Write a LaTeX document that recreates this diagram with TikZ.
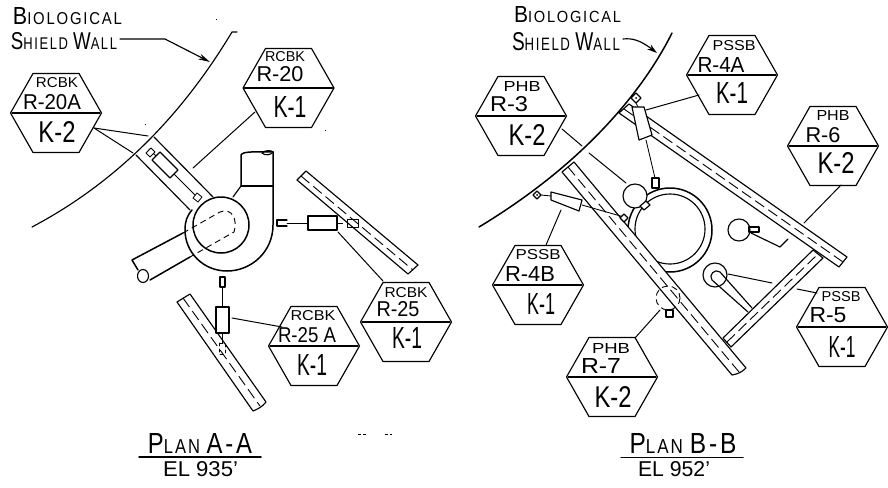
\documentclass[tikz,border=0pt]{standalone}
\usepackage{fontspec}
\setmainfont{Liberation Sans}
\newfontfamily\spacedfont[LetterSpace=12]{Liberation Sans}
\usetikzlibrary{arrows.meta}
\tikzset{
  ink/.style={line width=1.15pt,black,line join=round,line cap=round},
  thinink/.style={line width=0.85pt,black,line join=round,line cap=round},
  heavy/.style={line width=1.5pt,black,line join=round,line cap=round},
  centerline/.style={line width=0.9pt,black,dash pattern=on 11pt off 5pt},
  dashink/.style={line width=0.9pt,black,dash pattern=on 6pt off 4pt},
  leader/.style={line width=1pt,black,line cap=round},
  hexbox/.style={minimum width=91pt,minimum height=79pt,inner sep=0pt},
  lab/.style={inner sep=0pt,outer sep=0pt,black},
  speck/.style={line width=0.7pt,black}
}
\newcommand{\fitlab}[6]{\node[lab] (#1) at (#2,#3) {\resizebox{#4pt}{#5pt}{#6}};}
\newcommand{\hexa}[3]{%
  \node[hexbox] (#1) at (#2,#3) {};
  \begin{scope}[shift={(#2,#3)}]
    \draw[ink] (-45.5,0)--(-23,-39.5)--(23,-39.5)--(45.5,0)--(23,39.5)--(-23,39.5)--cycle;
    \draw[ink] (-44,0)--(44,0);
  \end{scope}}
\newcommand{\ttl}[1]{{\Large #1}}
\begin{document}
\begin{tikzpicture}[x=1pt,y=-1pt]
\useasboundingbox (0,0) rectangle (888,487);

%% ---------- hexagons, plan A-A
\hexa{hA}{56}{113}
\fitlab{hAa}{57}{83}{42}{10}{RCBK}
\fitlab{hAb}{52}{102}{58}{15}{R-20A}
\fitlab{hAc}{57}{132}{37}{21}{K-2}
\hexa{hB}{288.5}{88}
\fitlab{hBa}{285}{57}{40}{10}{RCBK}
\fitlab{hBb}{280}{74}{47}{15}{R-20}
\fitlab{hBc}{290}{107}{33}{21}{K-1}
\hexa{hC}{314}{346}
\fitlab{hCa}{313}{316}{45}{10}{RCBK}
\fitlab{hCb}{307}{335}{58}{15}{R-25 A}
\fitlab{hCc}{312}{365}{30}{21}{K-1}
\hexa{hD}{406}{322}
\fitlab{hDa}{406}{293}{43}{10}{RCBK}
\fitlab{hDb}{398}{309}{43}{15}{R-25}
\fitlab{hDc}{407}{338}{30}{21}{K-1}

%% ---------- hexagons, plan B-B
\hexa{hE}{521}{116}
\fitlab{hEa}{522}{86}{37}{10}{PHB}
\fitlab{hEb}{509}{104}{38}{15}{R-3}
\fitlab{hEc}{527}{135}{37}{21}{K-2}
\hexa{hF}{732}{75}
\fitlab{hFa}{734}{46}{43}{10}{PSSB}
\fitlab{hFb}{721}{65}{47}{15}{R-4A}
\fitlab{hFc}{732}{93}{32}{21}{K-1}
\hexa{hG}{833}{146}
\fitlab{hGa}{833}{115}{33}{10}{PHB}
\fitlab{hGb}{823}{135}{35}{15}{R-6}
\fitlab{hGc}{836}{163}{37}{21}{K-2}
\hexa{hH}{538}{285}
\fitlab{hHa}{538}{255}{45}{10}{PSSB}
\fitlab{hHb}{530}{274}{50}{15}{R-4B}
\fitlab{hHc}{541}{304}{28}{21}{K-1}
\hexa{hI}{612}{377}
\fitlab{hIa}{611}{348}{38}{10}{PHB}
\fitlab{hIb}{601}{366}{40}{15}{R-7}
\fitlab{hIc}{613}{397}{37}{21}{K-2}
\hexa{hJ}{842}{327}
\fitlab{hJa}{841}{297}{39}{10}{PSSB}
\fitlab{hJb}{828}{315}{37}{15}{R-5}
\fitlab{hJc}{842}{347}{27}{21}{K-1}

%% ---------- headings
\fitlab{t1}{67.5}{16.5}{109}{17}{\spacedfont\ttl{B}IOLOGICAL}
\fitlab{t2}{64}{41.5}{106}{17}{\spacedfont\ttl{S}HIELD \ttl{W}ALL}
\fitlab{t3}{567.5}{15}{107}{16}{\spacedfont\ttl{B}IOLOGICAL}
\fitlab{t4}{566}{41.5}{108}{18}{\spacedfont\ttl{S}HIELD \ttl{W}ALL}
\fitlab{t5}{200}{443}{104}{20}{\spacedfont\ttl{P}LAN \ttl{A-A}}
\fitlab{t6}{200.5}{469}{75}{15}{EL 935'}
\fitlab{t7}{683}{443}{107}{20}{\spacedfont\ttl{P}LAN \ttl{B-B}}
\fitlab{t8}{674}{469}{72}{15}{EL 952'}
\draw[heavy] (139,457)--(261,457);
\draw[heavy] (621,457.5)--(743,457.5);

%% ---------- plan A-A: wall and its arrow
\coordinate (wA1) at (232,32);
\coordinate (wA2) at (32,227);
\draw[ink] (237,32)--(wA1) .. controls (200,85) and (140,170) .. (wA2);
\coordinate (sA0) at (120,39);
\coordinate (sA1) at (165,39);
\coordinate (sA2) at (210,62);
\draw[ink,-{Stealth[length=12pt,width=6pt]}] (sA0)--(sA1)--(sA2);

%% ---------- plan A-A: duct to the pump
\draw[ink] (154,137)--(213,197);
\draw[ink] (136,155)--(190,210);
\coordinate (pA1) at (149,149);
\coordinate (pA2) at (198,198);
\draw[thinink] (pA1)--(pA2);
\draw[ink,fill=white] (152,160)--(160,152)--(178,170)--(170,178)--cycle;
\draw[thinink,fill=white] (146,153)--(151,148)--(155,152)--(150,157)--cycle;
\draw[thinink,fill=white] (193,198)--(197,193)--(202,197)--(198,202)--cycle;

%% ---------- plan A-A: pump
\draw[heavy] (273,152)--(273,225) .. controls (273,252) and (251,271) .. (227,271)
  .. controls (203,271) and (185,252) .. (185,230) .. controls (185,221) and (187,216) .. (192,210);
\draw[heavy] (221,225) circle[radius=28];
\draw[heavy] (241,186)--(241,155) .. controls (243,151) and (255,152) .. (273,152);
\draw[ink] (241,186)--(273,186);
\draw[ink] (241,186)--(233,197);
\draw[ink] (262,153) .. controls (265,150) and (271,150) .. (273,152);
\draw[ink] (262,153) .. controls (265,156) and (271,155) .. (273,152);
\draw[heavy] (183,233)--(132,260)--(138,270);
\draw[heavy] (190,257)--(150,280);
\draw[ink] (143,276) ellipse[x radius=5.5,y radius=6.5];
\draw[dashink] (183,233)--(220,212) .. controls (232,207) and (238,220) .. (234,232) -- (190,257);

%% ---------- plan A-A: right duct
\draw[ink] (306,171)--(418,265)--(408,274)--(297,180)--cycle;
\draw[centerline] (301,176)--(413,270);
\coordinate (pB1) at (287,223);
\coordinate (pB2) at (308,223);
\draw[thinink] (pB1)--(pB2);
\draw[ink,fill=white] (308,216) rectangle (337,230);
\draw[ink] (287,220)--(277,220)--(277,226)--(287,226);
\draw[dashink] (337,223)--(346,223);
\draw[thinink] (347,219) rectangle (358,227);

%% ---------- plan A-A: lower duct
\draw[ink] (190,294)--(266,402) .. controls (262,407) and (258,409) .. (253,411)--(177,302)--cycle;
\draw[centerline] (183,298)--(260,406);
\coordinate (pC1) at (222,287);
\coordinate (pC2) at (222,306);
\draw[thinink] (pC1)--(pC2);
\draw[ink] (220,277) rectangle (225,287);
\draw[ink,fill=white] (216,307) rectangle (229,333);
\draw[thinink] (222,333)--(222,343);
\draw[thinink,dashed] (219,343) rectangle (225,354);

%% ---------- plan A-A: leaders
\coordinate (lA1) at (94,128);
\coordinate (lA2) at (148,136);
\coordinate (lA3) at (133,153);
\coordinate (lB1) at (255,112);
\coordinate (lB2) at (193,168);
\coordinate (lC1) at (232,318);
\coordinate (lC2) at (282,327);
\coordinate (lD1) at (383,281);
\coordinate (lD2) at (338,232);
\draw[leader] (lA1)--(lA2);
\draw[leader] (lA1)--(lA3);
\draw[leader] (lB1)--(lB2);
\draw[leader] (lC1)--(lC2);
\draw[leader] (lD1)--(lD2);

%% ---------- plan B-B: wall and arrow
\coordinate (wB1) at (672,33);
\coordinate (wB2) at (479,227);
\draw[heavy] (wB1) .. controls (646,85) and (590,160) .. (wB2);
\coordinate (sB0) at (623,39);
\coordinate (sB2) at (657,53);
\draw[ink,-{Stealth[length=10pt,width=6pt]}] (sB0) .. controls (632,38) and (640,40) .. (sB2);

%% ---------- plan B-B: ring, then ducts over it
\draw[heavy] (670,230) circle[radius=42];
\draw[ink] (670,229) circle[radius=35];
\draw[ink,fill=white] (574,162)--(746,368) .. controls (742,372) and (738,374) .. (732,375)--(562,172)--cycle;
\draw[centerline] (568,167)--(739,372);
\draw[ink,fill=white] (629,104)--(847,257)--(839,267)--(619,113)--cycle;
\draw[centerline] (624,109)--(843,262);
\draw[ink,fill=white] (723,338)--(813,250)--(823,258)--(731,347)--cycle;
\draw[centerline] (727,342)--(818,254);

%% ---------- plan B-B: circles and valves
\draw[ink,fill=white] (635,196) circle[radius=12];
\draw[ink,fill=white] (640,206)--(646,201)--(650,205)--(644,210)--cycle;
\draw[ink,fill=white] (739,230) circle[radius=11];
\draw[ink] (749,227) rectangle (759,232);
\coordinate (vA1) at (751,233);
\coordinate (vA2) at (780,247);
\coordinate (vA3) at (788,239);
\draw[ink] (vA1)--(vA2)--(vA3);
\draw[ink,fill=white] (715,275) circle[radius=12];
\draw[ink] (748,312)--(712,280) .. controls (708,275) and (715,268) .. (720,272)--(752,308);
\draw[dashink] (668,298) circle[radius=12];
\draw[ink,fill=white] (666,310) rectangle (673,317);

%% valve at R-4A
\draw[ink] (636,93)--(641,98)--(636,103)--(631,98)--cycle;
\fill (636,98) circle[radius=1];
\draw[thinink] (636,103)--(638,107);
\draw[ink,fill=white] (632,107)--(644,107)--(652,135)--(639,140)--cycle;
\coordinate (vB1) at (646,140);
\coordinate (vB2) at (655,178);
\draw[thinink] (vB1)--(vB2);
\draw[ink,fill=white] (652,178) rectangle (659,188);

%% valve at R-4B
\draw[ink] (537,191)--(541,195)--(537,199)--(533,195)--cycle;
\fill (537,195) circle[radius=1];
\draw[thinink] (541,195)--(551,196);
\draw[ink,fill=white] (551,192)--(582,200)--(579,211)--(551,200)--cycle;
\coordinate (vC1) at (582,205);
\coordinate (vC2) at (624,217);
\draw[thinink] (vC1)--(vC2);
\draw[ink,fill=white] (624,214)--(628,218)--(624,222)--(620,218)--cycle;

%% ---------- plan B-B: leaders
\coordinate (mA1) at (699,95);
\coordinate (mA2) at (646,110);
\coordinate (mB1) at (562,129);
\coordinate (mB2) at (582,146);
\coordinate (mB3) at (589,153);
\coordinate (mB4) at (626,183);
\coordinate (mC1) at (841,185);
\coordinate (mC2) at (804,223);
\coordinate (mD1) at (561,210);
\coordinate (mD2) at (546,245);
\coordinate (mE1) at (660,310);
\coordinate (mE2) at (635,338);
\coordinate (mF1) at (728,274);
\coordinate (mF2) at (772,283);
\coordinate (mF3) at (797,289);
\coordinate (mF4) at (817,293);
\draw[leader] (mA1)--(mA2);
\draw[leader] (mB1)--(mB2);
\draw[leader] (mB3)--(mB4);
\draw[leader] (mC1)--(mC2);
\draw[leader] (mD1)--(mD2);
\draw[leader] (mE1)--(mE2);
\draw[leader] (mF1)--(mF2);
\draw[leader] (mF3)--(mF4);

%% ---------- scan specks
\draw[speck] (358,434)--(361,434) (363,434)--(366,434) (385,434)--(388,434) (390,434)--(392,434);
\draw[speck] (216,19)--(217,19) (145,124)--(146,124) (325,130)--(326,130);
\end{tikzpicture}
\end{document}
